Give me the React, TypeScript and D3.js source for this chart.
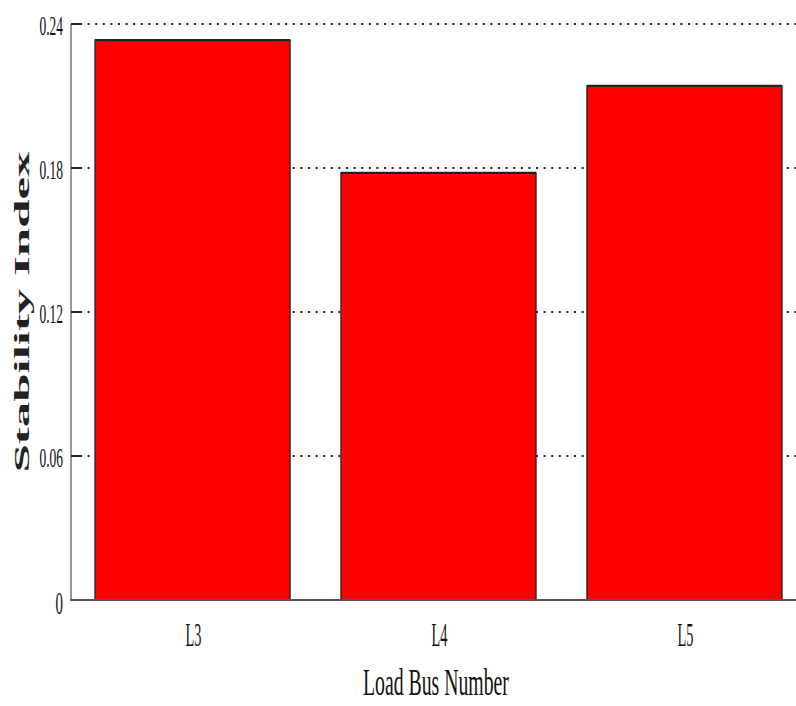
import React from "react";
import * as d3 from "d3";

const categories = ["L3", "L4", "L5"];
const values = [0.2333, 0.178, 0.2142];
const yTicks = [0, 0.06, 0.12, 0.18, 0.24];
const yTickLabels = ["0", "0.06", "0.12", "0.18", "0.24"];
const xTitle = "Load Bus Number";
const yTitle = "Stability Index";

export default function App() {
  const W = 796, H = 706;
  const left = 72, top = 24, bottom = 600, rightRange = 805;
  const x = d3.scaleBand<string>().domain(categories).range([left, rightRange]).paddingInner(0.207).paddingOuter(0.0935);
  const y = d3.scaleLinear().domain([0, 0.24]).range([bottom, top]);
  const serif = "'Liberation Serif', 'Times New Roman', serif";
  return (
    <svg width={W} height={H} style={{ position: "absolute", left: 0, top: 0, background: "#fff" }}>
      {/* grid */}
      {yTicks.filter((t) => t > 0).map((t) => (
        <line key={"g" + t} x1={left + 8} x2={W} y1={y(t)} y2={y(t)} stroke="#222" strokeWidth={1.8} strokeDasharray="2 5.6" />
      ))}
      {/* bars */}
      {categories.map((c, i) => {
        const x0 = x(c)!;
        const bw = x.bandwidth();
        const yt = y(values[i]);
        return (
          <g key={c}>
            <rect x={x0} y={yt} width={bw} height={bottom - yt} fill="#ff0000" stroke="#222" strokeWidth={1.3} />
            <line x1={x0} x2={x0 + bw} y1={yt} y2={yt} stroke="#222" strokeWidth={2.2} />
          </g>
        );
      })}
      {/* axes */}
      <line x1={left - 1} x2={left - 1} y1={top} y2={bottom} stroke="#999" strokeWidth={2} />
      <line x1={left - 2} x2={W} y1={bottom} y2={bottom} stroke="#555" strokeWidth={2} />
      {yTicks.filter((t) => t > 0).map((t) => (
        <line key={"t" + t} x1={left - 1} x2={left + 8} y1={y(t)} y2={y(t)} stroke="#222" strokeWidth={2} />
      ))}
      {/* y tick labels */}
      {yTicks.map((t, i) => (
        <text
          key={"l" + t}
          transform={`translate(63,${y(t) + (t === 0 ? 3.5 : 1.5)}) scale(0.48,1)`}
          textAnchor="end"
          dominantBaseline="central"
          fontFamily={serif}
          fontSize={t === 0 ? 31 : 28}
          fill="#111"
        >
          {yTickLabels[i]}
        </text>
      ))}
      {/* x tick labels */}
      {categories.map((c) => (
        <text
          key={"x" + c}
          transform={`translate(${x(c)! + x.bandwidth() / 2 + 1},646) scale(0.42,1)`}
          textAnchor="middle"
          fontFamily={serif}
          fontSize={34}
          fill="#111"
        >
          {c}
        </text>
      ))}
      {/* x title */}
      <text
        transform={`translate(436,695) scale(0.52,1)`}
        textAnchor="middle"
        fontFamily={serif}
        fontSize={38}
        fill="#111"
      >
        {xTitle}
      </text>
      {/* y title */}
      <text
        transform={`translate(29,312) rotate(-90)`}
        textAnchor="middle"
        fontFamily={serif}
        fontWeight="bold"
        fontSize={21}
        textLength={321}
        lengthAdjust="spacingAndGlyphs"
        fill="#222"
      >
        {yTitle}
      </text>
    </svg>
  );
}
